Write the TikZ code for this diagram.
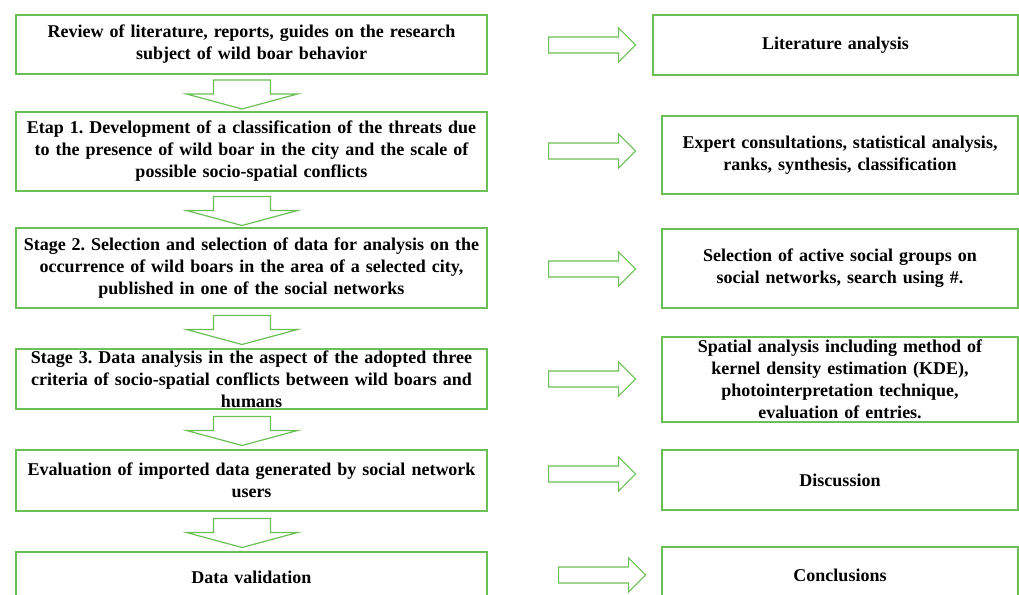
\documentclass[tikz,border=0pt]{standalone}
\usepackage{fontspec}
\setmainfont{Liberation Serif}
\usetikzlibrary{calc}
\definecolor{boxgreen}{RGB}{106,192,84}
\frenchspacing

% block arrows between boxes
\newcommand{\downblock}[2]{%
  \draw[blockarrow] ($(#1.south)!0.5!(#2.north)+(-38,-13)$) -- ++(57,0) -- ++(0,14)
    -- ++(27,0) -- ++(-55.5,15) -- ++(-55.5,-15) -- ++(27,0) -- cycle;}
\newcommand{\rightblock}[3]{%
  \draw[blockarrow] ($(#1.east)+(#2,#3)$) ++(0,-8) -- ++(70,0) -- ++(0,-9)
    -- ++(17,17) -- ++(-17,17) -- ++(0,-9) -- ++(-70,0) -- cycle;}

\begin{document}
\begin{tikzpicture}[x=1pt,y=-1pt,
    font=\fontsize{18}{22}\selectfont\bfseries,
    stagebox/.style={draw=boxgreen,line width=1.2pt,align=center,inner sep=0pt,
      minimum width=471,text width=467},
    methodbox/.style={draw=boxgreen,line width=1.2pt,align=center,inner sep=0pt,
      minimum width=356,text width=350},
    blockarrow/.style={draw=boxgreen,line width=1.2pt,line join=miter}]
  \useasboundingbox (0,0) rectangle (1019,594);
  % research stages
  \node[stagebox,minimum height=59] (review) at (251.5,44.5)
    {Review of literature, reports, guides on the research\\ subject of wild boar behavior};
  \node[stagebox,minimum height=79] (etap1) at (251.5,151.5)
    {Etap 1. Development of a classification of the threats due\\ to the presence of wild boar in the city and the scale of\\ possible socio-spatial conflicts};
  \node[stagebox,minimum height=80] (stage2) at (251.5,268)
    {Stage 2. Selection and selection of data for analysis on the\\ occurrence of wild boars in the area of a selected city,\\ published in one of the social networks};
  \node[stagebox,minimum height=60] (stage3) at (251.5,379)
    {Stage 3. Data analysis in the aspect of the adopted three\\ criteria of socio-spatial conflicts between wild boars and\\ humans};
  \node[stagebox,minimum height=61] (evaluation) at (251.5,480.5)
    {Evaluation of imported data generated by social network\\ users};
  \node[stagebox,minimum height=50] (validation) at (251.5,577)
    {Data validation};
  % methods
  \node[methodbox,minimum width=365,minimum height=60] (literature) at (835.5,45)
    {Literature analysis};
  \node[methodbox,minimum height=78] (expert) at (840,155)
    {Expert consultations, statistical analysis,\\ ranks, synthesis, classification};
  \node[methodbox,minimum height=79] (selection) at (840,268.5)
    {Selection of active social groups on\\ social networks, search using \#.};
  \node[methodbox,minimum height=85] (spatial) at (840,379.5)
    {Spatial analysis including method of\\ kernel density estimation (KDE),\\ photointerpretation technique,\\ evaluation of entries.};
  \node[methodbox,minimum height=60] (discussion) at (840,480)
    {Discussion};
  \node[methodbox,minimum height=56] (conclusions) at (840,575)
    {Conclusions};
  % flow down
  \downblock{review}{etap1}
  \downblock{etap1}{stage2}
  \downblock{stage2}{stage3}
  \downblock{stage3}{evaluation}
  \downblock{evaluation}{validation}
  % flow right
  \rightblock{review}{61}{0.5}
  \rightblock{etap1}{61}{-0.5}
  \rightblock{stage2}{61}{1}
  \rightblock{stage3}{61}{0}
  \rightblock{evaluation}{61}{-6.5}
  \rightblock{validation}{71}{-2}
\end{tikzpicture}
\end{document}
